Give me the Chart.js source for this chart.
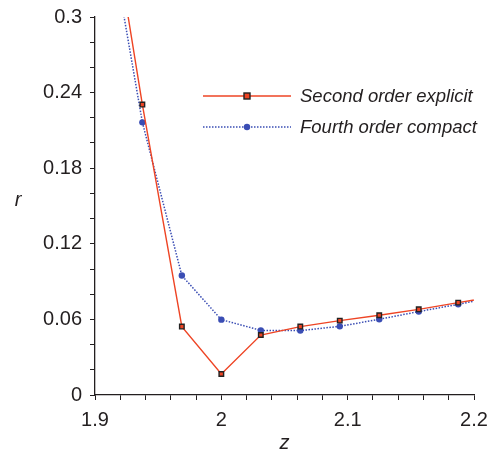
<!DOCTYPE html>
<html>
<head>
<meta charset="utf-8">
<script src="https://cdn.jsdelivr.net/npm/chart.js@4.4.1/dist/chart.umd.min.js"></script>
<style>
  html, body { margin: 0; padding: 0; background: #ffffff; }
  #wrap { width: 491px; height: 455px; position: relative; }
</style>
</head>
<body>
<div id="wrap"><canvas id="c" width="491" height="455"></canvas></div>
<script>
// ---- data ----
const zValues = [1.90625, 1.9375, 1.96875, 2.0, 2.03125, 2.0625, 2.09375, 2.125, 2.15625, 2.1875, 2.21875];
const secondOrderExplicit = [0.424, 0.2305, 0.0543, 0.0167, 0.0476, 0.0543, 0.0590, 0.0633, 0.0680, 0.0733, 0.0786];
const fourthOrderCompact = [0.397, 0.2164, 0.0948, 0.0598, 0.0513, 0.0511, 0.0545, 0.0601, 0.0662, 0.0720, 0.0780];
const seriesLabels = ['Second order explicit', 'Fourth order compact'];

const xTickValues = [1.9, 1.92, 1.94, 1.96, 1.98, 2.0, 2.02, 2.04, 2.06, 2.08, 2.1, 2.12, 2.14, 2.16, 2.18, 2.2];
const xMajorTicks = [1.9, 2.0, 2.1, 2.2];
const xMajorLabels = ['1.9', '2', '2.1', '2.2'];
const yTickValues = [0, 0.02, 0.04, 0.06, 0.08, 0.10, 0.12, 0.14, 0.16, 0.18, 0.20, 0.22, 0.24, 0.26, 0.28, 0.30];
const yMajorTicks = [0, 0.06, 0.12, 0.18, 0.24, 0.3];
const yMajorLabels = ['0', '0.06', '0.12', '0.18', '0.24', '0.3'];
const xTitle = 'z';
const yTitle = 'r';

// ---- styles ----
const RED = '#ee4424';
const BLUE = '#3a4db4';
const INK = '#231f20';
const FONT = "'Liberation Sans', Arial, Helvetica, sans-serif";

function labelFor(v, majors, labels) {
  for (let i = 0; i < majors.length; i++) {
    if (Math.abs(majors[i] - v) < 1e-9) return labels[i];
  }
  return '';
}

const toPoints = (ys) => zValues.map((z, i) => ({ x: z, y: ys[i] }));

const overlayPlugin = {
  id: 'overlay',
  afterDraw(chart) {
    const ctx = chart.ctx;
    ctx.save();
    // y-axis title (upright italic)
    ctx.fillStyle = INK;
    ctx.font = 'italic 20px ' + FONT;
    ctx.textAlign = 'center';
    ctx.textBaseline = 'middle';
    ctx.fillText(yTitle, 18, 200);

    // legend
    const rows = [
      { y: 96, ds: chart.data.datasets[0] },
      { y: 127, ds: chart.data.datasets[1] }
    ];
    rows.forEach((r) => {
      const ds = r.ds;
      ctx.save();
      ctx.strokeStyle = ds.borderColor;
      ctx.lineWidth = ds.borderWidth;
      ctx.setLineDash(ds.borderDash || []);
      ctx.beginPath();
      ctx.moveTo(203, r.y);
      ctx.lineTo(291, r.y);
      ctx.stroke();
      ctx.restore();
      // marker
      ctx.save();
      ctx.fillStyle = ds.pointBackgroundColor;
      ctx.strokeStyle = ds.pointBorderColor;
      ctx.lineWidth = ds.pointBorderWidth;
      if (ds.pointStyle === 'rect') {
        ctx.fillRect(244, r.y - 3, 6, 6);
        ctx.strokeRect(244, r.y - 3, 6, 6);
      } else {
        ctx.beginPath();
        ctx.arc(247, r.y, ds.pointRadius, 0, Math.PI * 2);
        ctx.fill();
      }
      ctx.restore();
      ctx.fillStyle = INK;
      ctx.font = 'italic 18.5px ' + FONT;
      ctx.textAlign = 'left';
      ctx.textBaseline = 'middle';
      ctx.fillText(ds.label, 300, r.y + 1);
    });
    ctx.restore();
  }
};

new Chart(document.getElementById('c'), {
  type: 'line',
  data: {
    datasets: [
      {
        label: seriesLabels[0],
        data: toPoints(secondOrderExplicit),
        borderColor: RED,
        borderWidth: 1.4,
        pointStyle: 'rect',
        pointRadius: 3.2,
        pointBackgroundColor: RED,
        pointBorderColor: '#222222',
        pointBorderWidth: 1.4,
        tension: 0,
        clip: 0,
        order: 1
      },
      {
        label: seriesLabels[1],
        data: toPoints(fourthOrderCompact),
        borderColor: BLUE,
        borderWidth: 1.5,
        borderDash: [1.5, 1.5],
        pointStyle: 'circle',
        pointRadius: 3.2,
        pointBackgroundColor: BLUE,
        pointBorderColor: BLUE,
        pointBorderWidth: 0,
        tension: 0,
        clip: 0,
        order: 2
      }
    ]
  },
  options: {
    responsive: false,
    animation: false,
    devicePixelRatio: 1,
    layout: { padding: { top: 17, right: 17, left: 0, bottom: 0 } },
    plugins: {
      legend: { display: false },
      tooltip: { enabled: false }
    },
    scales: {
      x: {
        type: 'linear',
        min: 1.9,
        max: 2.2,
        afterBuildTicks(scale) { scale.ticks = xTickValues.map(v => ({ value: v })); },
        afterFit(scale) { scale.height = 60; scale.paddingLeft = 0; scale.paddingRight = 0; },
        ticks: {
          autoSkip: false,
          maxRotation: 0,
          padding: 8,
          color: INK,
          font: { family: FONT, size: 20 },
          callback: (v) => labelFor(v, xMajorTicks, xMajorLabels)
        },
        grid: { drawOnChartArea: false, drawTicks: true, tickLength: 5, color: INK, lineWidth: 1 },
        border: { display: true, color: INK, width: 1.3 },
        title: {
          display: true,
          text: xTitle,
          color: INK,
          font: { family: FONT, size: 20, style: 'italic' },
          padding: { top: 0, bottom: 0 }
        }
      },
      y: {
        type: 'linear',
        min: 0,
        max: 0.3,
        afterBuildTicks(scale) { scale.ticks = yTickValues.map(v => ({ value: v })); },
        afterFit(scale) { scale.width = 95; scale.paddingTop = 0; scale.paddingBottom = 0; },
        ticks: {
          autoSkip: false,
          padding: 8,
          color: INK,
          font: { family: FONT, size: 20 },
          callback: (v) => labelFor(v, yMajorTicks, yMajorLabels)
        },
        grid: { drawOnChartArea: false, drawTicks: true, tickLength: 5, color: INK, lineWidth: 1 },
        border: { display: true, color: INK, width: 1.3 }
      }
    }
  },
  plugins: [overlayPlugin]
});
</script>
</body>
</html>
